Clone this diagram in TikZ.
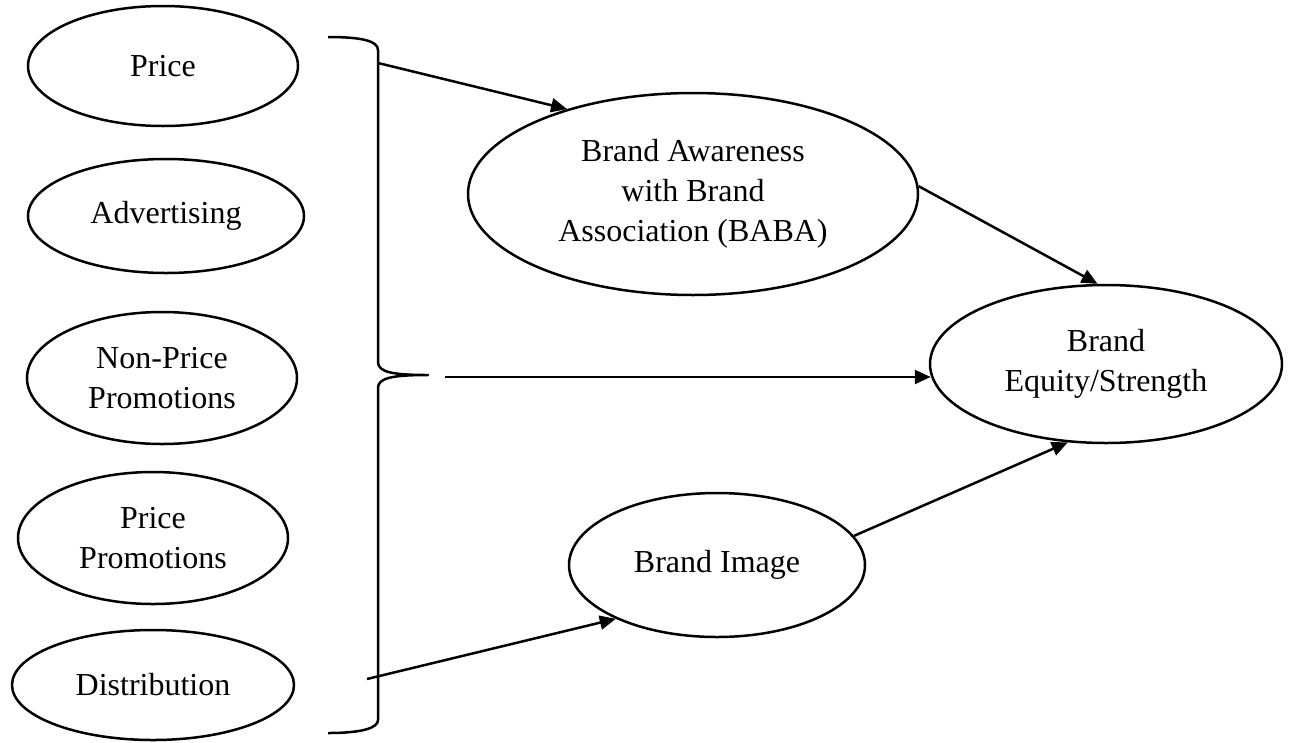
\documentclass[tikz,border=0pt]{standalone}
\usepackage{fontspec}
\setmainfont{Liberation Serif}
\usetikzlibrary{shapes.geometric,arrows.meta,calc}
\begin{document}
\begin{tikzpicture}[x=1pt,y=-1pt,
  oval/.style={draw,ellipse,line width=2.5pt,inner sep=0pt,align=center,
    font=\fontsize{32}{40}\selectfont},
  conn/.style={line width=2.5pt,-{Triangle[length=16pt,width=14pt]}},
  bracket/.style={line width=2.5pt,line join=round}
]
\useasboundingbox (0,0) rectangle (1289,742);

% marketing-mix inputs
\node[oval,minimum width=270pt,minimum height=120pt] (price) at (163,66) {Price};
\node[oval,minimum width=276pt,minimum height=114pt] (adv) at (166,216) {Advertising};
\node[oval,minimum width=270pt,minimum height=132pt] (npp) at (162,378) {Non-Price\\Promotions};
\node[oval,minimum width=270pt,minimum height=132pt] (pp) at (153,538) {Price\\Promotions};
\node[oval,minimum width=282pt,minimum height=110pt] (dist) at (153,685) {Distribution};

% brand constructs
\node[oval,minimum width=450pt,minimum height=202pt] (baba) at (693,194)
  {Brand Awareness\\with Brand\\Association (BABA)};
\node[oval,minimum width=352pt,minimum height=158pt] (eq) at (1106,364)
  {Brand\\Equity/Strength};
\node[oval,minimum width=296pt,minimum height=144pt] (img) at (717,565) {Brand Image};

% grouping brace
\draw[bracket] (328,37) .. controls (362,37) and (378,41) .. (378,50)
  -- (378,362) .. controls (378,372) and (392,375) .. (428,375)
  .. controls (392,375) and (378,378) .. (378,388)
  -- (378,720) .. controls (378,728) and (362,733) .. (328,733);

\coordinate (bt) at (378,63);
\coordinate (bm) at (445,377);
\coordinate (bb) at (367,679);

% paths
\draw[conn] (bt) -- (baba.146);
\draw[conn] (baba.2) -- (eq.96);
\draw[conn] (bm) -- ($(bm -| eq.west)+(2,0)$);
\draw[conn] (img.12) -- (eq.244);
\draw[conn] (bb) -- (img.208);
\end{tikzpicture}
\end{document}
